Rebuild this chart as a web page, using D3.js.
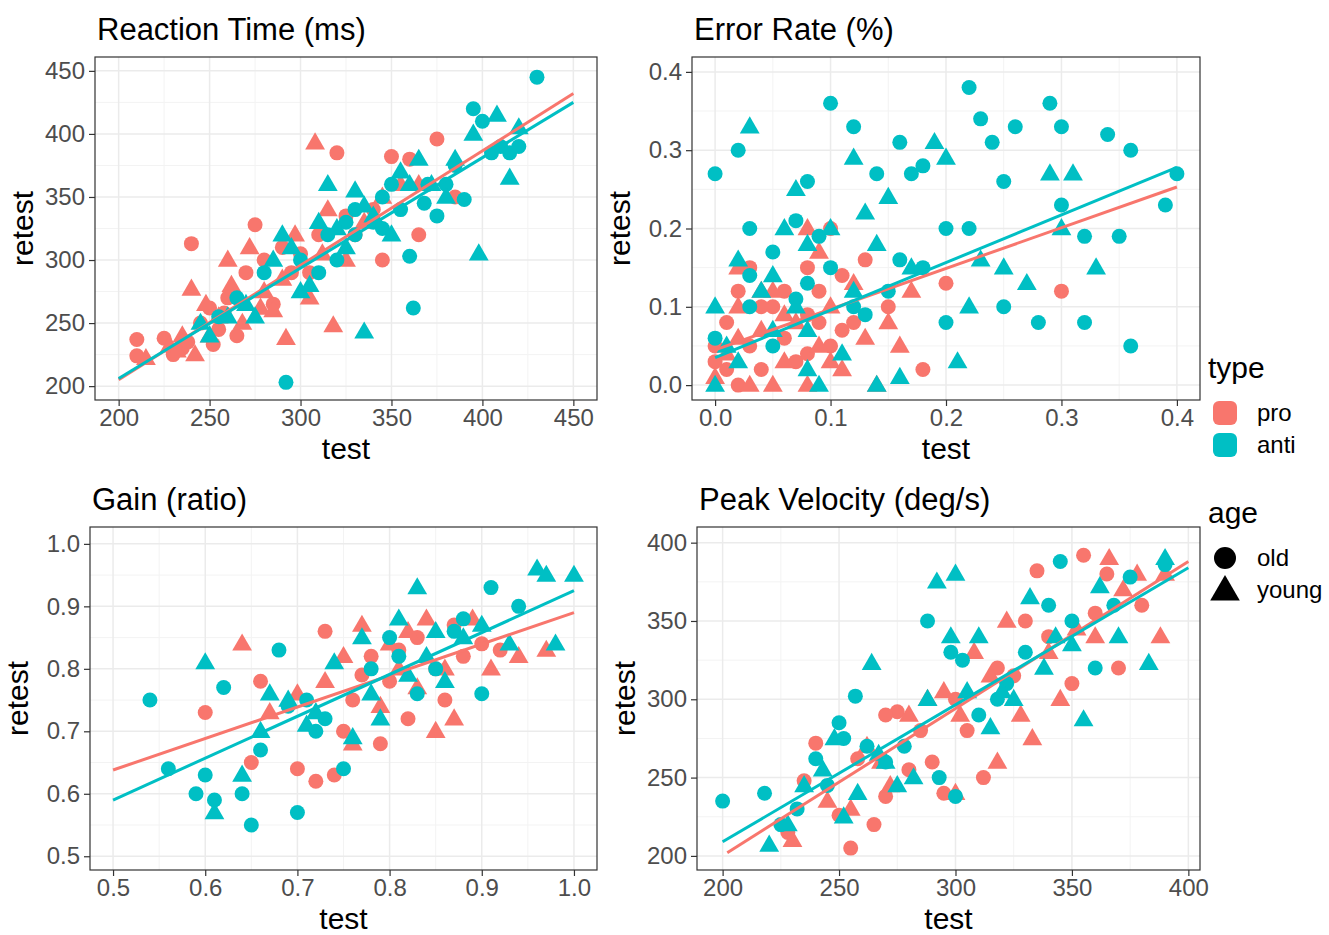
<!DOCTYPE html>
<html><head><meta charset="utf-8">
<script src="https://cdn.jsdelivr.net/npm/d3@7"></script>
<style>body{margin:0;background:#fff}</style></head>
<body><div id="plot_area"></div>
<script>
// Data: [test, retest] per type/age group
const rtProOld = [[210,237],[210,224],[225,238],[240,313],[235,230],[245,250],[250,262],[255,245],[260,270],[265,240],[275,328],[280,300],[290,310],[300,305],[305,290],[310,320],[320,385],[330,320],[345,300],[350,382],[360,380],[365,320],[375,396],[385,350],[340,340],[270,290],[285,265],[230,225],[252,233],[238,235],[258,258],[295,290],[325,335]];
const rtProYoung = [[215,222],[228,232],[235,240],[240,277],[242,225],[248,265],[255,255],[262,280],[268,250],[272,310],[280,275],[285,260],[292,238],[297,320],[305,270],[315,340],[318,248],[325,300],[335,330],[345,350],[355,360],[365,360],[308,393],[290,285],[260,300],[250,240],[232,228],[278,262],[312,305]];
const rtAntiOld = [[292,203],[300,300],[310,290],[320,300],[330,320],[340,330],[345,350],[350,360],[355,340],[360,303],[362,262],[370,360],[375,335],[380,360],[385,375],[390,348],[395,420],[400,410],[405,385],[410,390],[415,385],[420,390],[430,445],[330,340],[315,320],[280,290],[265,270],[255,255],[325,330],[345,325],[368,345]];
const rtAntiYoung = [[250,240],[260,255],[270,265],[275,255],[285,300],[295,310],[305,280],[315,360],[325,310],[335,343],[340,335],[350,320],[355,370],[360,360],[365,380],[372,360],[380,350],[385,380],[395,400],[398,305],[408,415],[415,365],[420,405],[335,243],[245,250],[290,320],[300,275],[310,330],[320,325],[330,355]];

const erProOld = [[0,0.03],[0,0.05],[0.01,0.08],[0.02,0.0],[0.02,0.12],[0.03,0.05],[0.04,0.02],[0.05,0.1],[0.06,0.06],[0.07,0.03],[0.08,0.15],[0.08,0.09],[0.09,0.12],[0.1,0.2],[0.1,0.05],[0.11,0.14],[0.12,0.08],[0.13,0.16],[0.15,0.1],[0.18,0.02],[0.2,0.13],[0.3,0.12],[0.03,0.15],[0.06,0.12],[0.01,0.02],[0.04,0.1],[0.08,0.04],[0.09,0.08],[0.11,0.07]];
const erProYoung = [[0,0.01],[0.01,0.04],[0.02,0.1],[0.02,0.15],[0.03,0.0],[0.04,0.07],[0.05,0.0],[0.05,0.12],[0.06,0.03],[0.07,0.08],[0.08,0.0],[0.08,0.2],[0.09,0.05],[0.1,0.1],[0.11,0.02],[0.12,0.13],[0.13,0.06],[0.14,0.0],[0.15,0.08],[0.16,0.05],[0.17,0.12],[0.04,0.12],[0.09,0.17],[0.02,0.06],[0.06,0.09],[0.1,0.03]];
const erAntiOld = [[0,0.27],[0.02,0.3],[0.03,0.2],[0.05,0.17],[0.07,0.21],[0.08,0.26],[0.1,0.36],[0.12,0.33],[0.14,0.27],[0.16,0.31],[0.17,0.27],[0.18,0.28],[0.2,0.2],[0.22,0.38],[0.23,0.34],[0.24,0.31],[0.25,0.26],[0.26,0.33],[0.29,0.36],[0.3,0.33],[0.34,0.32],[0.36,0.3],[0.39,0.23],[0.4,0.27],[0.3,0.23],[0.32,0.19],[0.35,0.19],[0.36,0.05],[0.28,0.08],[0.32,0.08],[0.25,0.1],[0.2,0.08],[0.18,0.15],[0.15,0.12],[0.22,0.2],[0.12,0.1],[0.1,0.15],[0.05,0.05],[0.08,0.13],[0.03,0.1],[0.0,0.06],[0.03,0.14],[0.07,0.11],[0.09,0.19],[0.13,0.09],[0.16,0.16]];
const erAntiYoung = [[0,0.0],[0,0.1],[0.01,0.05],[0.02,0.16],[0.03,0.33],[0.04,0.12],[0.05,0.07],[0.07,0.25],[0.08,0.18],[0.08,0.02],[0.09,0.0],[0.11,0.04],[0.12,0.29],[0.13,0.22],[0.15,0.24],[0.16,0.01],[0.17,0.15],[0.19,0.31],[0.2,0.29],[0.21,0.03],[0.22,0.1],[0.23,0.16],[0.27,0.13],[0.29,0.27],[0.31,0.27],[0.3,0.2],[0.33,0.15],[0.25,0.15],[0.14,0.0],[0.1,0.2],[0.07,0.1],[0.06,0.2],[0.02,0.03],[0.05,0.14],[0.08,0.07],[0.12,0.12],[0.14,0.18]];

const gaProOld = [[0.6,0.73],[0.65,0.65],[0.66,0.78],[0.7,0.64],[0.72,0.62],[0.73,0.86],[0.75,0.7],[0.76,0.75],[0.78,0.82],[0.8,0.78],[0.82,0.72],[0.83,0.85],[0.85,0.8],[0.86,0.75],[0.88,0.82],[0.9,0.84],[0.92,0.83],[0.74,0.63],[0.79,0.68],[0.87,0.87],[0.77,0.79],[0.81,0.83]];
const gaProYoung = [[0.64,0.84],[0.67,0.73],[0.7,0.76],[0.73,0.78],[0.75,0.82],[0.77,0.87],[0.79,0.74],[0.81,0.8],[0.84,0.88],[0.85,0.7],[0.87,0.72],[0.89,0.88],[0.91,0.8],[0.94,0.82],[0.97,0.83],[0.76,0.68],[0.82,0.86],[0.86,0.8],[0.8,0.84],[0.83,0.77]];
const gaAntiOld = [[0.54,0.75],[0.56,0.64],[0.59,0.6],[0.6,0.63],[0.61,0.59],[0.62,0.77],[0.64,0.6],[0.65,0.55],[0.66,0.67],[0.68,0.83],[0.7,0.57],[0.71,0.75],[0.73,0.72],[0.75,0.64],[0.78,0.8],[0.8,0.85],[0.83,0.76],[0.85,0.8],[0.87,0.86],[0.9,0.76],[0.91,0.93],[0.94,0.9],[0.88,0.88],[0.72,0.7],[0.69,0.74],[0.81,0.82]];
const gaAntiYoung = [[0.6,0.81],[0.61,0.57],[0.64,0.63],[0.66,0.7],[0.67,0.76],[0.69,0.75],[0.72,0.73],[0.74,0.81],[0.76,0.69],[0.77,0.85],[0.79,0.72],[0.81,0.88],[0.83,0.93],[0.84,0.82],[0.86,0.78],[0.88,0.85],[0.9,0.87],[0.93,0.84],[0.96,0.96],[0.98,0.84],[1.0,0.95],[0.97,0.95],[0.78,0.76],[0.82,0.79],[0.71,0.71],[0.85,0.86]];

const pvProOld = [[228,215],[235,248],[240,272],[250,226],[255,205],[258,262],[265,220],[270,238],[275,292],[280,255],[290,260],[295,240],[300,300],[305,280],[312,250],[318,320],[325,315],[330,350],[335,382],[340,340],[350,310],[355,392],[360,355],[365,380],[370,320],[380,360],[270,290],[285,280]];
const pvProYoung = [[230,210],[245,235],[255,230],[262,270],[268,260],[272,245],[280,290],[288,300],[295,305],[302,290],[308,330],[315,315],[322,350],[328,290],[333,275],[340,330],[345,300],[352,345],[360,340],[366,390],[372,370],[378,380],[388,340],[390,380],[318,260],[300,240]];
const pvAntiOld = [[200,235],[218,240],[225,220],[232,230],[240,262],[245,245],[250,285],[252,275],[257,302],[262,270],[270,260],[278,270],[288,350],[293,250],[298,330],[303,325],[310,290],[318,300],[322,310],[330,330],[340,360],[345,388],[350,350],[360,320],[368,360],[375,378],[390,386],[300,238]];
const pvAntiYoung = [[220,207],[228,220],[235,245],[243,255],[248,275],[252,225],[258,240],[264,323],[270,260],[275,245],[282,250],[288,300],[292,375],[298,340],[305,305],[310,340],[315,282],[320,305],[325,300],[332,365],[338,320],[343,340],[350,335],[355,287],[362,372],[370,340],[383,323],[390,390],[267,265],[300,380]];

// Fitted lines: [[x0,y0],[x1,y1]]
const rtFitPro = [[200,205],[450,432]], rtFitAnti = [[200,206],[450,425]];
const erFitPro = [[0,0.045],[0.4,0.253]], erFitAnti = [[0,0.035],[0.4,0.278]];
const gaFitPro = [[0.5,0.638],[1.0,0.89]], gaFitAnti = [[0.5,0.59],[1.0,0.925]];
const pvFitPro = [[202,202],[400,388]], pvFitAnti = [[200,209],[400,384]];

const rtTicks = [200,250,300,350,400,450];
const erTicks = [0,0.1,0.2,0.3,0.4];
const gaTicks = [0.5,0.6,0.7,0.8,0.9,1.0];
const pvTicks = [200,250,300,350,400];

const typeLabels = ['pro','anti'];
const ageLabels = ['old','young'];
const colors = {pro:'#F8766D', anti:'#00BFC4'};

const w = 1329, h = 935;
const font = 'Liberation Sans, Arial, sans-serif';
const svg = d3.select('#plot_area').append('svg').attr('width', w).attr('height', h)
  .style('font-family', font);

function panel(cfg) {
  const g = svg.append('g');
  const x = d3.scaleLinear().domain(cfg.xd).range([cfg.px0, cfg.px1]);
  const y = d3.scaleLinear().domain(cfg.yd).range([cfg.py1, cfg.py0]);
  g.append('rect').attr('x', cfg.px0).attr('y', cfg.py0)
   .attr('width', cfg.px1 - cfg.px0).attr('height', cfg.py1 - cfg.py0).attr('fill', '#fff');
  const step = cfg.ticks[1] - cfg.ticks[0];
  const xMinor = [cfg.ticks[0] - step/2].concat(cfg.ticks.map(t => t + step/2));
  const yt = cfg.yticks, ystep = yt[1] - yt[0];
  const yMinor = [yt[0] - ystep/2].concat(yt.map(t => t + ystep/2));
  const inX = v => v >= cfg.xd[0] && v <= cfg.xd[1];
  const inY = v => v >= cfg.yd[0] && v <= cfg.yd[1];
  g.selectAll('.vmin').data(xMinor.filter(inX)).enter().append('line')
   .attr('x1', d => x(d)).attr('x2', d => x(d)).attr('y1', cfg.py0).attr('y2', cfg.py1)
   .attr('stroke', '#F3F3F3').attr('stroke-width', 1);
  g.selectAll('.hmin').data(yMinor.filter(inY)).enter().append('line')
   .attr('y1', d => y(d)).attr('y2', d => y(d)).attr('x1', cfg.px0).attr('x2', cfg.px1)
   .attr('stroke', '#F3F3F3').attr('stroke-width', 1);
  g.selectAll('.vmaj').data(cfg.ticks).enter().append('line')
   .attr('x1', d => x(d)).attr('x2', d => x(d)).attr('y1', cfg.py0).attr('y2', cfg.py1)
   .attr('stroke', '#EBEBEB').attr('stroke-width', 1.5);
  g.selectAll('.hmaj').data(yt).enter().append('line')
   .attr('y1', d => y(d)).attr('y2', d => y(d)).attr('x1', cfg.px0).attr('x2', cfg.px1)
   .attr('stroke', '#EBEBEB').attr('stroke-width', 1.5);

  const groups = [[cfg.data[0],'pro','old'],[cfg.data[1],'pro','young'],[cfg.data[2],'anti','old'],[cfg.data[3],'anti','young']];
  const tri = d3.symbol().type(d3.symbolTriangle).size(170);
  groups.forEach(([pts, t, a]) => {
    if (a === 'old') {
      g.selectAll(null).data(pts).enter().append('circle')
       .attr('cx', d => x(d[0])).attr('cy', d => y(d[1])).attr('r', 7.5).attr('fill', colors[t]);
    } else {
      g.selectAll(null).data(pts).enter().append('path').attr('d', tri)
       .attr('transform', d => 'translate(' + x(d[0]) + ',' + (y(d[1]) + 1) + ')').attr('fill', colors[t]);
    }
  });
  [[cfg.fits[0],'pro'],[cfg.fits[1],'anti']].forEach(([f, t]) => {
    g.append('path').datum(f).attr('fill', 'none').attr('stroke', colors[t]).attr('stroke-width', 3)
     .attr('d', d3.line().x(d => x(d[0])).y(d => y(d[1])));
  });
  g.append('rect').attr('x', cfg.px0).attr('y', cfg.py0)
   .attr('width', cfg.px1 - cfg.px0).attr('height', cfg.py1 - cfg.py0)
   .attr('fill', 'none').attr('stroke', '#333').attr('stroke-width', 1.2);

  const xa = g.append('g').attr('transform', 'translate(0,' + cfg.py1 + ')')
   .call(d3.axisBottom(x).tickValues(cfg.ticks).tickFormat(cfg.fmt).tickSize(6).tickPadding(3));
  const ya = g.append('g').attr('transform', 'translate(' + cfg.px0 + ',0)')
   .call(d3.axisLeft(y).tickValues(yt).tickFormat(cfg.fmt).tickSize(6).tickPadding(4));
  [xa, ya].forEach(a => {
    a.select('.domain').remove();
    a.selectAll('.tick line').attr('stroke', '#333').attr('stroke-width', 1.2);
    a.selectAll('.tick text').attr('fill', '#4D4D4D').style('font-size', '24px').style('font-family', font);
  });
  g.append('text').attr('x', (cfg.px0 + cfg.px1)/2).attr('y', cfg.py1 + 59)
   .attr('text-anchor', 'middle').style('font-size', '30px').text('test');
  g.append('text').attr('text-anchor', 'middle')
   .attr('transform', 'translate(' + (cfg.px0 - 62) + ',' + (cfg.py0 + cfg.py1)/2 + ')rotate(-90)')
   .style('font-size', '30px').text('retest');
  g.append('text').attr('x', cfg.px0 + 2).attr('y', cfg.py0 - 17).style('font-size', '31px').text(cfg.title);
}

const f0 = d3.format('d'), f1 = d3.format('.1f');
panel({title:'Reaction Time (ms)', data:[rtProOld,rtProYoung,rtAntiOld,rtAntiYoung], fits:[rtFitPro,rtFitAnti],
  xd:[187,463], yd:[189,461], px0:95, px1:597, py0:57, py1:400, ticks:rtTicks, yticks:rtTicks.slice(), fmt:f0});
panel({title:'Error Rate (%)', data:[erProOld,erProYoung,erAntiOld,erAntiYoung], fits:[erFitPro,erFitAnti],
  xd:[-0.02,0.42], yd:[-0.019,0.419], px0:692, px1:1200, py0:57, py1:400, ticks:erTicks, yticks:erTicks.slice(), fmt:f1});
panel({title:'Gain (ratio)', data:[gaProOld,gaProYoung,gaAntiOld,gaAntiYoung], fits:[gaFitPro,gaFitAnti],
  xd:[0.475,1.025], yd:[0.478,1.027], px0:90, px1:597, py0:527, py1:870, ticks:gaTicks, yticks:gaTicks.slice(), fmt:f1});
panel({title:'Peak Velocity (deg/s)', data:[pvProOld,pvProYoung,pvAntiOld,pvAntiYoung], fits:[pvFitPro,pvFitAnti],
  xd:[189,405], yd:[191,410], px0:697, px1:1200, py0:527, py1:870, ticks:pvTicks, yticks:pvTicks.slice(), fmt:f0});

// Legends
const lg = svg.append('g');
lg.append('text').attr('x', 1208).attr('y', 378).style('font-size', '30px').text('type');
typeLabels.forEach((t, i) => {
  const cy = 413 + i * 32;
  lg.append('rect').attr('x', 1213).attr('y', cy - 12).attr('width', 24).attr('height', 24).attr('rx', 6).attr('fill', colors[t]);
  lg.append('text').attr('x', 1257).attr('y', cy + 8).style('font-size', '24px').text(t);
});
lg.append('text').attr('x', 1208).attr('y', 523).style('font-size', '30px').text('age');
ageLabels.forEach((a, i) => {
  const cy = 558 + i * 32;
  if (a === 'old') lg.append('circle').attr('cx', 1225).attr('cy', cy).attr('r', 11).attr('fill', '#000');
  else lg.append('path').attr('d', d3.symbol().type(d3.symbolTriangle).size(380))
         .attr('transform', 'translate(1225,' + (cy + 2) + ')').attr('fill', '#000');
  lg.append('text').attr('x', 1257).attr('y', cy + 8).style('font-size', '24px').text(a);
});
</script></body></html>
